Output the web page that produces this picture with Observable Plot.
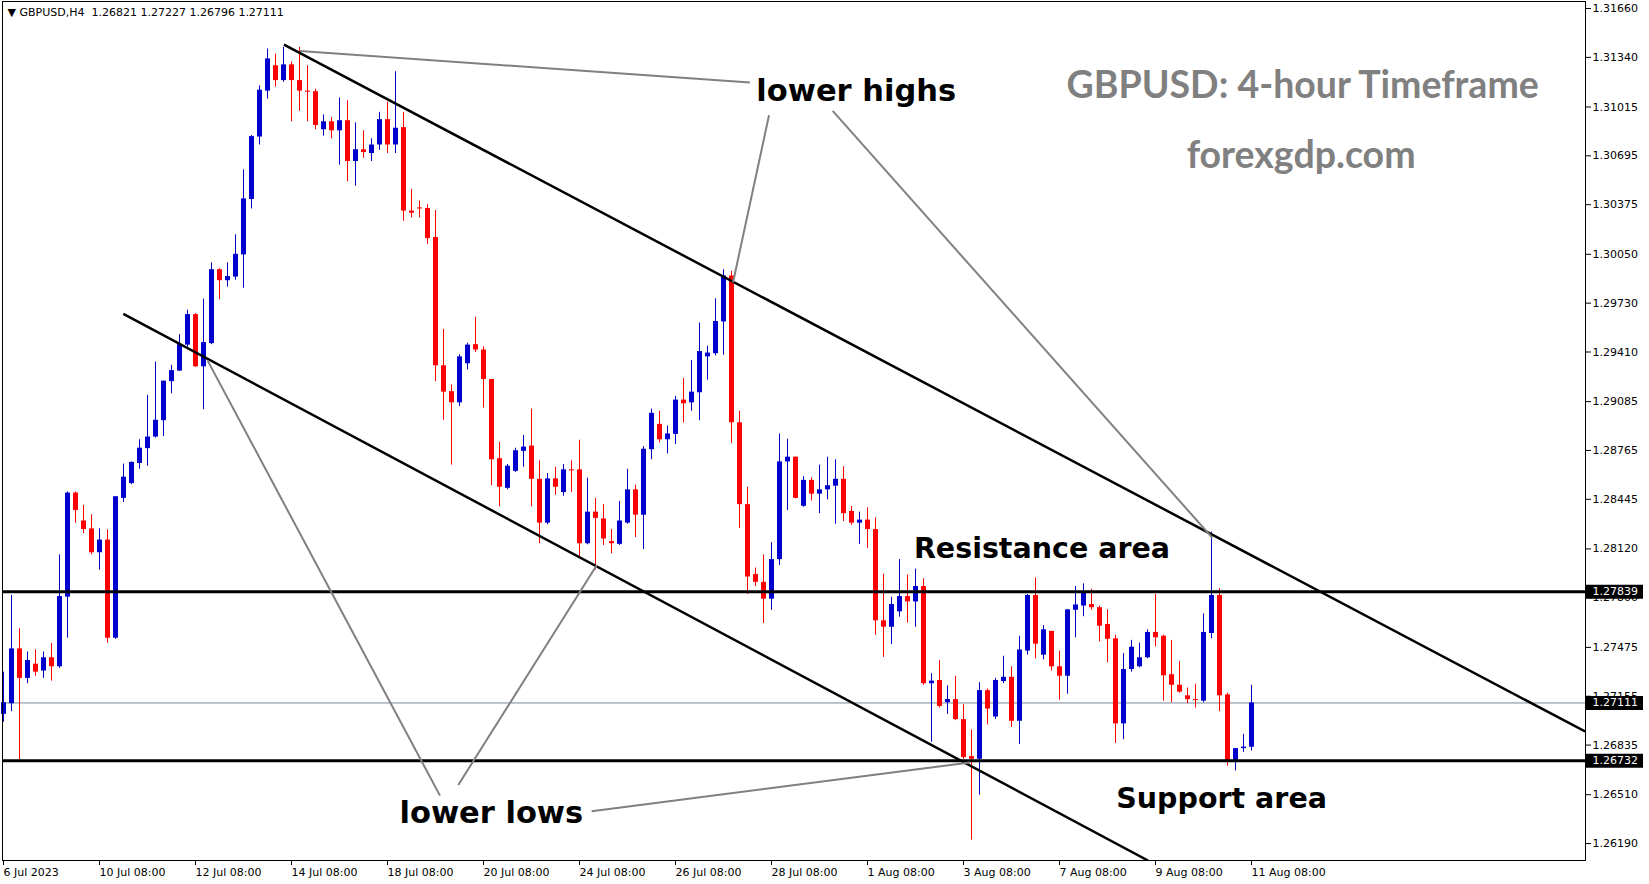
<!DOCTYPE html>
<html><head><meta charset="utf-8">
<script src="https://cdn.jsdelivr.net/npm/d3@7"></script>
<script src="https://cdn.jsdelivr.net/npm/@observablehq/plot@0.6"></script>
<style>html,body{margin:0;padding:0;background:#fff;overflow:hidden}svg{display:block}</style>
</head><body><div id="chart"></div>
<script>
// GBPUSD H4 candles, bar index 0..156
const opens = [1.27036,1.27106,1.27465,1.27272,1.27365,1.27320,1.27407,1.27348,1.27804,1.28486,
1.28303,1.28251,1.28095,1.28178,1.27535,1.28451,1.28548,1.28680,1.28777,1.28853,
1.28960,1.29216,1.29285,1.29455,1.29655,1.29313,1.29465,1.29949,1.29877,1.29901,
1.30046,1.30409,1.30818,1.31119,1.31285,1.31188,1.31291,1.31188,1.31119,1.31115,
1.30866,1.30918,1.30859,1.30925,1.30658,1.30735,1.30710,1.30766,1.30932,1.30766,
1.30880,1.30333,1.30354,1.30350,1.30160,1.29320,1.29150,1.29077,1.29333,1.29458,
1.29423,1.29230,1.28711,1.28517,1.28628,1.28759,1.28794,1.28576,1.28289,1.28579,
1.28489,1.28638,1.28638,1.28154,1.28361,1.28316,1.28168,1.28150,1.28289,1.28507,
1.28341,1.28770,1.28936,1.28835,1.28870,1.29095,1.29077,1.29143,1.29378,1.29399,
1.29607,1.29908,1.28946,1.28410,1.27953,1.27901,1.27791,1.28050,1.28690,1.28721,
1.28399,1.28569,1.28479,1.28507,1.28531,1.28576,1.28365,1.28289,1.28309,1.28247,
1.27649,1.27607,1.27708,1.27808,1.27773,1.27874,1.27237,1.27258,1.27113,1.27133,
1.27002,1.26760,1.26742,1.27192,1.27019,1.27251,1.27279,1.26991,1.27451,1.27815,
1.27424,1.27580,1.27348,1.27286,1.27718,1.27746,1.27756,1.27735,1.27625,1.27531,
1.26974,1.27330,1.27348,1.27407,1.27573,1.27548,1.27296,1.27227,1.27158,1.27133,
1.27123,1.27566,1.27815,1.27164,1.26732,1.26812,1.26821];
const highs = [1.27313,1.27815,1.27597,1.27445,1.27458,1.27445,1.27500,1.28081,1.28493,1.28493,
1.28406,1.28344,1.28251,1.28244,1.28462,1.28676,1.28690,1.28835,1.29126,1.29344,
1.29219,1.29323,1.29524,1.29683,1.29662,1.29756,1.29994,1.29956,1.29994,1.30178,
1.30603,1.30828,1.31153,1.31395,1.31361,1.31406,1.31309,1.31406,1.31285,1.31132,
1.30963,1.30946,1.31074,1.31056,1.30911,1.30859,1.30807,1.30980,1.31046,1.31246,
1.30980,1.30475,1.30399,1.30375,1.30337,1.29558,1.29195,1.29392,1.29468,1.29638,
1.29444,1.29230,1.28818,1.28673,1.28780,1.28863,1.29036,1.28697,1.28614,1.28655,
1.28673,1.28697,1.28832,1.28583,1.28451,1.28410,1.28247,1.28431,1.28642,1.28538,
1.28790,1.29036,1.29022,1.28925,1.29119,1.29237,1.29354,1.29600,1.29448,1.29759,
1.29949,1.29939,1.29022,1.28524,1.27995,1.28081,1.28161,1.28873,1.28839,1.28721,
1.28593,1.28586,1.28669,1.28721,1.28704,1.28659,1.28399,1.28361,1.28389,1.28323,
1.27953,1.27804,1.28050,1.27950,1.27988,1.27925,1.27303,1.27389,1.27223,1.27286,
1.27099,1.26933,1.27244,1.27202,1.27272,1.27417,1.27348,1.27548,1.27822,1.27929,
1.27618,1.27580,1.27451,1.27721,1.27874,1.27891,1.27856,1.27746,1.27721,1.27555,
1.27434,1.27521,1.27503,1.27590,1.27822,1.27555,1.27521,1.27382,1.27209,1.27234,
1.27694,1.28230,1.27860,1.27175,1.26812,1.26905,1.27227];
const lows = [1.26985,1.27054,1.26732,1.27237,1.27286,1.27272,1.27254,1.27337,1.27535,1.28289,
1.28220,1.28081,1.27981,1.27503,1.27528,1.28424,1.28541,1.28642,1.28662,1.28846,
1.28856,1.29136,1.29282,1.29441,1.29309,1.29032,1.29458,1.29752,1.29835,1.29880,
1.29828,1.30347,1.30766,1.31067,1.31146,1.31177,1.30918,1.30987,1.30918,1.30866,
1.30824,1.30807,1.30634,1.30524,1.30496,1.30679,1.30658,1.30731,1.30710,1.30710,
1.30267,1.30288,1.30288,1.30115,1.29216,1.28963,1.28669,1.29053,1.29292,1.29406,
1.29043,1.28534,1.28396,1.28507,1.28621,1.28655,1.28396,1.28154,1.28278,1.28472,
1.28465,1.28489,1.28064,1.28147,1.27981,1.28143,1.28088,1.28143,1.28282,1.28195,
1.28116,1.28704,1.28815,1.28742,1.28804,1.28946,1.29022,1.28960,1.29226,1.29385,
1.29389,1.28811,1.28254,1.27822,1.27874,1.27631,1.27718,1.28012,1.28372,1.28448,
1.28393,1.28434,1.28351,1.28441,1.28282,1.28299,1.28275,1.28150,1.28123,1.27555,
1.27410,1.27493,1.27673,1.27635,1.27607,1.27227,1.26853,1.27078,1.27036,1.26995,
1.26742,1.26213,1.26507,1.26967,1.27002,1.27237,1.26950,1.26839,1.27424,1.27400,
1.27393,1.27320,1.27130,1.27168,1.27538,1.27676,1.27718,1.27510,1.27375,1.26846,
1.26870,1.27313,1.27341,1.27400,1.27479,1.27123,1.27113,1.27175,1.27106,1.27078,
1.27113,1.27531,1.27054,1.26697,1.26666,1.26787,1.26796];
const closes = [1.27113,1.27465,1.27272,1.27389,1.27313,1.27407,1.27348,1.27808,1.28486,1.28372,
1.28247,1.28095,1.28178,1.27535,1.28462,1.28590,1.28687,1.28780,1.28853,1.28963,
1.29219,1.29288,1.29458,1.29655,1.29313,1.29472,1.29949,1.29877,1.29904,1.30050,
1.30413,1.30821,1.31125,1.31330,1.31188,1.31291,1.31188,1.31119,1.31112,1.30894,
1.30918,1.30859,1.30925,1.30658,1.30735,1.30717,1.30766,1.30932,1.30766,1.30876,
1.30333,1.30319,1.30347,1.30153,1.29320,1.29147,1.29077,1.29378,1.29455,1.29423,
1.29230,1.28704,1.28524,1.28662,1.28763,1.28787,1.28576,1.28289,1.28579,1.28524,
1.28638,1.28631,1.28154,1.28361,1.28320,1.28185,1.28154,1.28303,1.28507,1.28341,
1.28773,1.29008,1.28835,1.28873,1.29095,1.29071,1.29147,1.29413,1.29403,1.29610,
1.29908,1.28946,1.28410,1.27936,1.27901,1.27791,1.28050,1.28690,1.28721,1.28451,
1.28569,1.28479,1.28507,1.28534,1.28576,1.28351,1.28289,1.28309,1.28247,1.27649,
1.27607,1.27756,1.27808,1.27773,1.27874,1.27237,1.27254,1.27088,1.27133,1.27002,
1.26753,1.26742,1.27192,1.27071,1.27258,1.27279,1.26991,1.27458,1.27815,1.27496,
1.27590,1.27348,1.27286,1.27721,1.27753,1.27839,1.27735,1.27614,1.27528,1.26974,
1.27330,1.27476,1.27407,1.27573,1.27538,1.27289,1.27227,1.27182,1.27133,1.27126,
1.27573,1.27815,1.27158,1.26732,1.26812,1.26822,1.27111];

const xTickBars = [0,12,24,36,48,60,72,84,96,108,120,132,144,156];
const xTickLabels = ["6 Jul 2023","10 Jul 08:00","12 Jul 08:00","14 Jul 08:00","18 Jul 08:00","20 Jul 08:00","24 Jul 08:00","26 Jul 08:00","28 Jul 08:00","1 Aug 08:00","3 Aug 08:00","7 Aug 08:00","9 Aug 08:00","11 Aug 08:00"];
const yTickValues = [1.31660,1.31340,1.31015,1.30695,1.30375,1.30050,1.29730,1.29410,1.29085,1.28765,1.28445,1.28120,1.27800,1.27475,1.27155,1.26835,1.26510,1.26190];

const headerText = "\u25BC GBPUSD,H4 \u00A01.26821 1.27227 1.26796 1.27111";
const levelPrices = [1.27839, 1.26732];      // resistance, support
const lastPrice = 1.27111;
const boxPrices = [1.27839, 1.27111, 1.26732];

const channelFromBar = [35.06, 14.98];
const channelFromPrice = [1.31423, 1.29660];
const channelToBar = [197.7, 143.06];
const channelToPrice = [1.26924, 1.26079];

const pointerFromBar = [37.06, 95.69, 103.65, 25.5, 56.85, 73.52];
const pointerFromPrice = [1.31382, 1.30961, 1.30989, 1.29355, 1.26574, 1.26401];
const pointerToBar = [93.3, 91.19, 151.1, 54.56, 74.15, 120.81];
const pointerToPrice = [1.31175, 1.29865, 1.28193, 1.26504, 1.28013, 1.26721];

const noteText = ["lower highs", "Resistance area", "Support area", "lower lows"];
const noteBar = [94.1, 113.8, 139.1, 49.5];
const notePrice = [1.31120, 1.28120, 1.26482, 1.26390];

const titleText = ["GBPUSD: 4-hour Timeframe", "forexgdp.com"];
const titleBar = [162.4, 162.2];
const titlePrice = [1.31154, 1.30692];

const BULL = "#0000cc", BEAR = "#ff0000";

const bars = opens.map((o, i) => ({i, open: o, high: highs[i], low: lows[i], close: closes[i]}));
const isUp = d => d.close >= d.open;
const channels = channelFromBar.map((b, k) => ({i1: b, p1: channelFromPrice[k], i2: channelToBar[k], p2: channelToPrice[k]}));
const pointers = pointerFromBar.map((b, k) => ({i1: b, p1: pointerFromPrice[k], i2: pointerToBar[k], p2: pointerToPrice[k]}));
const notes = noteText.map((t, k) => ({t, i: noteBar[k], p: notePrice[k]}));
const isArea = d => d.t.endsWith("area");
const titles = titleText.map((t, k) => ({t, i: titleBar[k], p: titlePrice[k]}));

const chart = Plot.plot({
  width: 1649, height: 884,
  marginLeft: 2, marginRight: 64, marginTop: 1, marginBottom: 24,
  style: {fontFamily: "DejaVu Sans", fontSize: "11px", background: "#fff", color: "#000"},
  x: {domain: [-0.125, 197.75], axis: "bottom", ticks: xTickBars,
      tickFormat: d => xTickLabels[xTickBars.indexOf(d)], tickSize: 5, tickPadding: 3, label: null},
  y: {domain: [1.26079, 1.31706], axis: "right", ticks: yTickValues,
      tickFormat: d => d.toFixed(5), tickSize: 5, tickPadding: 2, label: null},
  marks: [
    Plot.ruleY([lastPrice], {stroke: "#778899", strokeWidth: 1}),
    Plot.ruleX(bars, {filter: isUp, x: "i", y1: "low", y2: "high", stroke: BULL, strokeWidth: 1}),
    Plot.ruleX(bars, {filter: d => !isUp(d), x: "i", y1: "low", y2: "high", stroke: BEAR, strokeWidth: 1}),
    Plot.ruleX(bars, {filter: isUp, x: "i", y1: "open", y2: "close", stroke: BULL, strokeWidth: 5}),
    Plot.ruleX(bars, {filter: d => !isUp(d), x: "i", y1: "open", y2: "close", stroke: BEAR, strokeWidth: 5}),
    Plot.ruleY(levelPrices, {stroke: "#000", strokeWidth: 3}),
    Plot.link(channels, {x1: "i1", y1: "p1", x2: "i2", y2: "p2", stroke: "#000", strokeWidth: 2.5, clip: true}),
    Plot.link(pointers, {x1: "i1", y1: "p1", x2: "i2", y2: "p2", stroke: "#808080", strokeWidth: 2, clip: true}),
    Plot.text(notes, {filter: d => !isArea(d), x: "i", y: "p", text: "t", textAnchor: "start", fontSize: 30.5, fontWeight: "bold", fontFamily: "DejaVu Sans", fill: "#000"}),
    Plot.text(notes, {filter: isArea, x: "i", y: "p", text: "t", textAnchor: "start", fontSize: 28.5, fontWeight: "bold", fontFamily: "DejaVu Sans", fill: "#000"}),
    Plot.text(titles, {x: "i", y: "p", text: "t", textAnchor: "middle", fontSize: 37.5, fontWeight: "bold", fontFamily: "Lato", fill: "#808080"}),
    Plot.text([headerText], {text: d => d, frameAnchor: "top-left", textAnchor: "start", lineAnchor: "top", dx: 5, dy: 7, fontSize: 11, fill: "#000"}),
    Plot.ruleY(boxPrices, {stroke: "#000", strokeWidth: 14, insetLeft: 1526, dx: 58}),
    Plot.text(boxPrices, {y: d => d, text: d => d.toFixed(5), frameAnchor: "right", textAnchor: "start", dx: 7, fill: "#fff", fontSize: 11}),
    Plot.frame({stroke: "#000"})
  ]
});
chart.querySelectorAll('g[aria-label^="x-axis"] text').forEach(t => t.setAttribute("text-anchor", "start"));
document.getElementById("chart").appendChild(chart);
</script>
</body></html>
